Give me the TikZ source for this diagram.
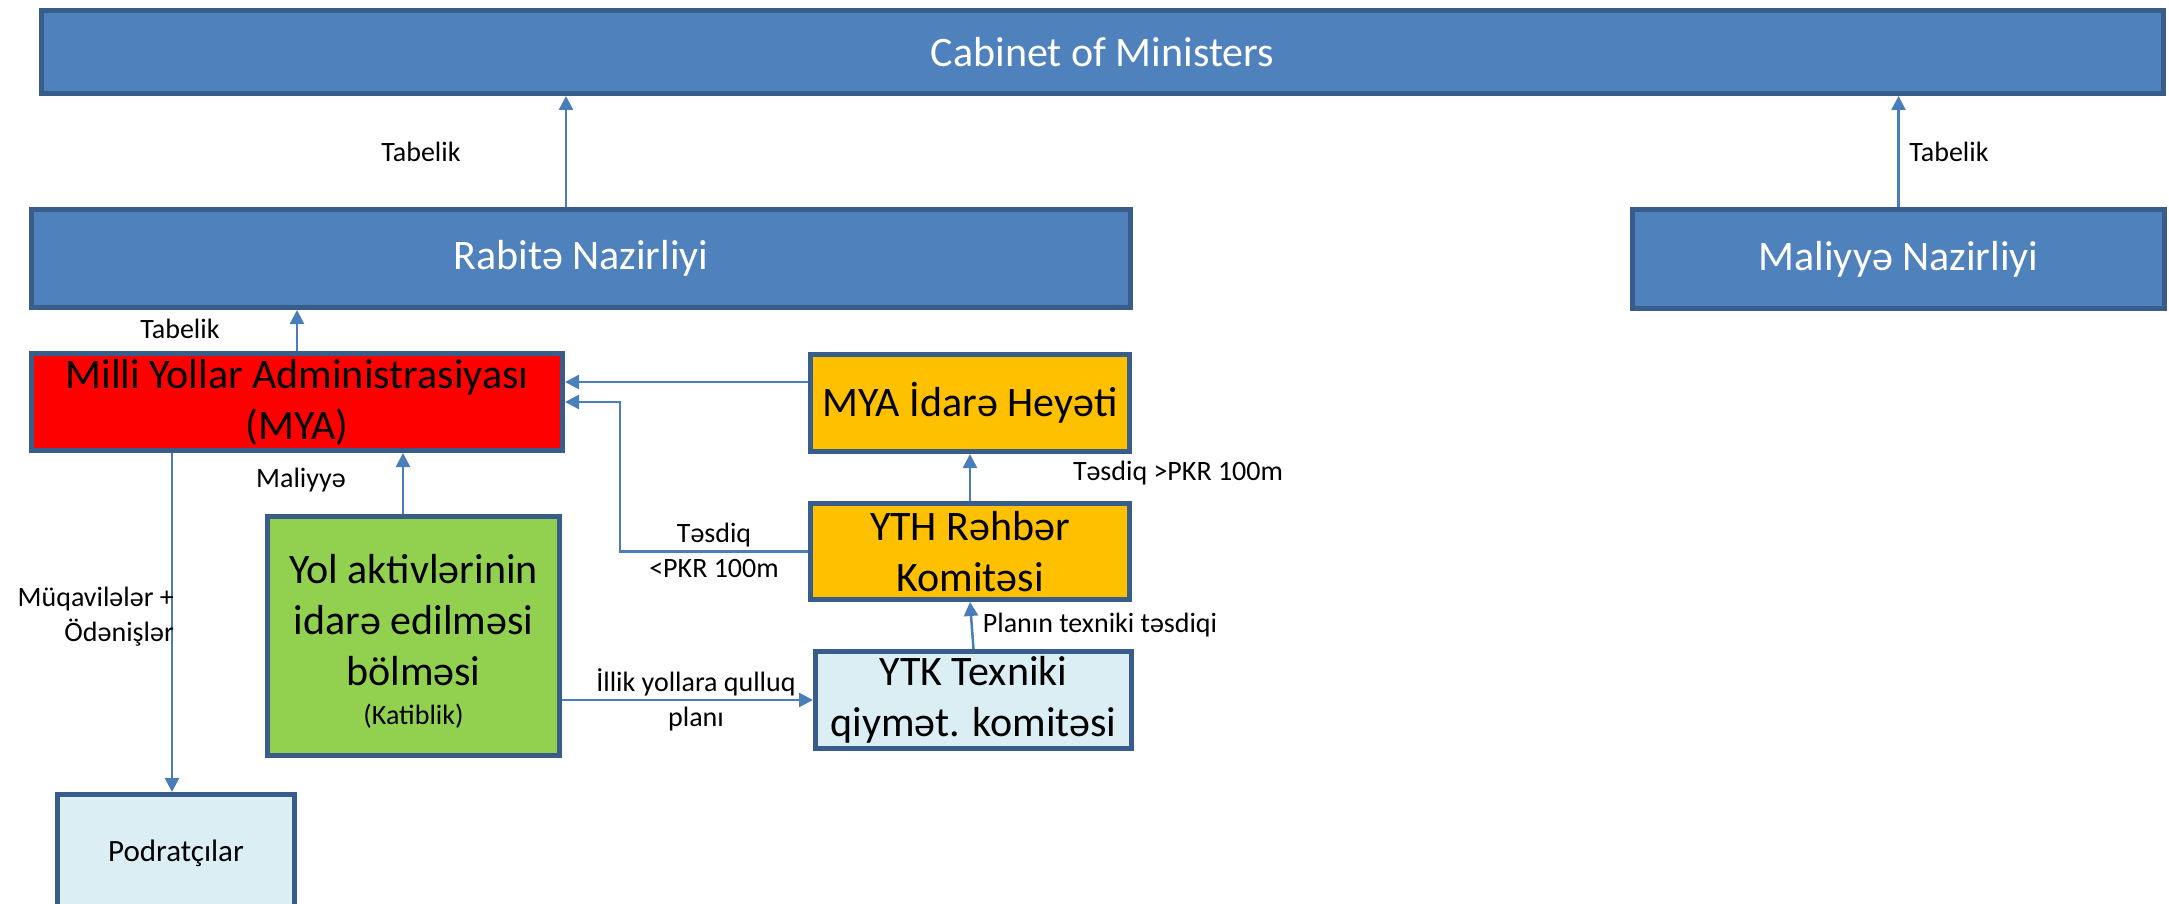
\documentclass[tikz,border=0pt]{standalone}
\usepackage{fontspec}
\setmainfont{Carlito}
\usetikzlibrary{arrows.meta}
\definecolor{boxblue}{HTML}{4F81BD}
\definecolor{edgeblue}{HTML}{385D8A}
\definecolor{linkblue}{HTML}{4A7EBB}
\definecolor{mred}{HTML}{FF0000}
\definecolor{morange}{HTML}{FFC000}
\definecolor{mgreen}{HTML}{92D050}
\definecolor{mlight}{HTML}{DBEEF4}
\begin{document}
\begin{tikzpicture}[x=1pt,y=-1pt,
  box/.style={draw=edgeblue, line width=5pt, rectangle, inner sep=0pt, align=center},
  big/.style={font=\fontsize{42}{51}\selectfont},
  lbl/.style={font=\fontsize{28}{35}\selectfont, inner sep=0pt, align=center},
  arr/.style={draw=linkblue, line width=2.5pt, -{Triangle[length=14pt,width=14pt]}}]
\useasboundingbox (0,0) rectangle (2169,904);
\clip (0,0) rectangle (2169,904);
\fill[white] (0,0) rectangle (2169,904);

\node[box, fill=boxblue, text=white, big, minimum width=2122pt, minimum height=83pt] (cab) at (1102.5,52) {Cabinet of Ministers};
\node[box, fill=boxblue, text=white, big, minimum width=1099pt, minimum height=98pt] (rab) at (581,258.5) {Rabitə Nazirliyi};
\node[box, fill=boxblue, text=white, big, minimum width=532pt, minimum height=99pt] (mal) at (1898.5,259) {Maliyyə Nazirliyi};
\node[box, fill=mred, big, minimum width=531pt, minimum height=97pt] (mya) at (297,402) {Milli Yollar Administrasiyası\\(MYA)};
\node[box, fill=morange, big, minimum width=319pt, minimum height=97pt] (hey) at (970,403) {MYA İdarə Heyəti};
\node[box, fill=morange, big, minimum width=319pt, minimum height=96pt] (yth) at (970,551.5) {YTH Rəhbər\\Komitəsi};
\node[box, fill=mlight, big, minimum width=316pt, minimum height=97pt] (ytk) at (973.5,700) {YTK Texniki\\qiymət. komitəsi};
\node[box, fill=mgreen, big, minimum width=292pt, minimum height=239pt] (yol) at (413.5,635.5) {\rule{0pt}{40pt}Yol aktivlərinin\\idarə edilməsi\\bölməsi\\[-12pt]{\fontsize{28}{34}\selectfont (Katiblik)}};
\node[box, fill=mlight, font=\fontsize{31}{37}\selectfont, minimum width=237pt, minimum height=117pt] (pod) at (176,853) {Podratçılar};

\coordinate (xr) at (566,0);
\coordinate (xg) at (403,0);
\coordinate (xp) at (172,0);
\coordinate (yh) at (0,382);
\coordinate (bend) at (620,402);

\draw[arr] (rab.north -| xr) -- (cab.south -| xr);
\draw[arr] (mal.north) -- (mal.north |- cab.south);
\draw[arr] (mya.north) -- (mya.north |- rab.south);
\draw[arr] (hey.west |- yh) -- (mya.east |- yh);
\draw[arr] (yth.west) -| (bend) -- (mya.east |- bend);
\draw[arr] (yth.north) -- (hey.south);
\draw[arr] (ytk.north) -- (yth.south);
\draw[arr] (yol.north -| xg) -- (mya.south -| xg);
\draw[arr] (yol.east |- ytk.west) -- (ytk.west);
\draw[arr] (mya.south -| xp) -- (pod.north -| xp);

\node[lbl] (t1) at (421,152) {Tabelik};
\node[lbl] (t2) at (1949,152) {Tabelik};
\node[lbl] (t3) at (180,329) {Tabelik};
\node[lbl] (lmal) at (301,480) {Maliyyə};
\node[lbl] (ltl) at (714,550) {Təsdiq\\<PKR 100m};
\node[lbl] (ltg) at (1178,473) {Təsdiq >PKR 100m};
\node[lbl] (lpl) at (1100,625) {Planın texniki təsdiqi};
\node[lbl] (lil) at (696,700) {İllik yollara qulluq\\planı};
\node[lbl, align=right, anchor=east] (lmq) at (174,617) {Müqavilələr +\\Ödənişlər};
\end{tikzpicture}
\end{document}
